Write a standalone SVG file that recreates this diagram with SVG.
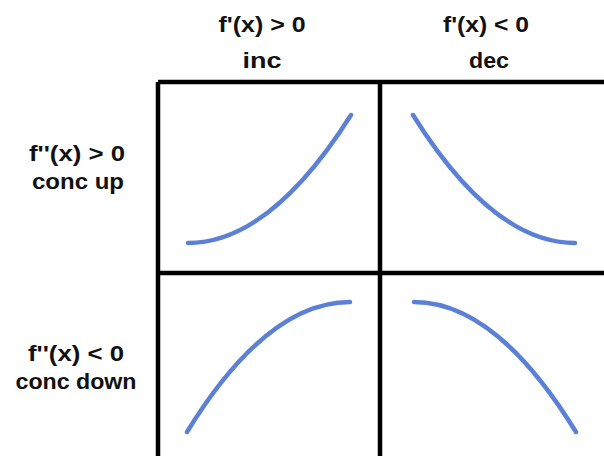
<svg xmlns="http://www.w3.org/2000/svg" width="604" height="456" viewBox="0 0 604 456">
<style>
.lbl{font-family:"Liberation Sans",Arial,sans-serif;font-weight:bold;font-size:22.5px;fill:#111;text-anchor:middle}
.grid{stroke:#000;stroke-width:4.5;fill:none}
.curve{stroke:#5b80d6;stroke-width:4.5;fill:none;stroke-linecap:round}
</style>
<rect width="604" height="456" fill="#fff"/>
<g id="col-inc"><text class="lbl" x="262" y="32" textLength="87" lengthAdjust="spacingAndGlyphs">f'(x) &gt; 0</text><text class="lbl" x="262" y="68" textLength="39" lengthAdjust="spacingAndGlyphs">inc</text></g>
<g id="col-dec"><text class="lbl" x="486" y="32" textLength="86" lengthAdjust="spacingAndGlyphs">f'(x) &lt; 0</text><text class="lbl" x="489" y="68" textLength="40" lengthAdjust="spacingAndGlyphs">dec</text></g>
<g id="row-up"><text class="lbl" x="77" y="161" textLength="96" lengthAdjust="spacingAndGlyphs">f''(x) &gt; 0</text><text class="lbl" x="78" y="189" textLength="92" lengthAdjust="spacingAndGlyphs">conc up</text></g>
<g id="row-down"><text class="lbl" x="76" y="361" textLength="96" lengthAdjust="spacingAndGlyphs">f''(x) &lt; 0</text><text class="lbl" x="76" y="389" textLength="121" lengthAdjust="spacingAndGlyphs">conc down</text></g>
<g id="grid">
<path class="grid" d="M158,82 H610 M158,82 V460 M380,82 V460 M158,273 H610"/>
</g>
<g id="cell-inc-up"><path class="curve" d="M188,243 Q270,243 351,115"/></g>
<g id="cell-dec-up"><path class="curve" d="M413,115 Q493,243 575,243"/></g>
<g id="cell-inc-down"><path class="curve" d="M187,432 Q267,302 350,302"/></g>
<g id="cell-dec-down"><path class="curve" d="M414,302 Q496,302 576,432"/></g>
</svg>
